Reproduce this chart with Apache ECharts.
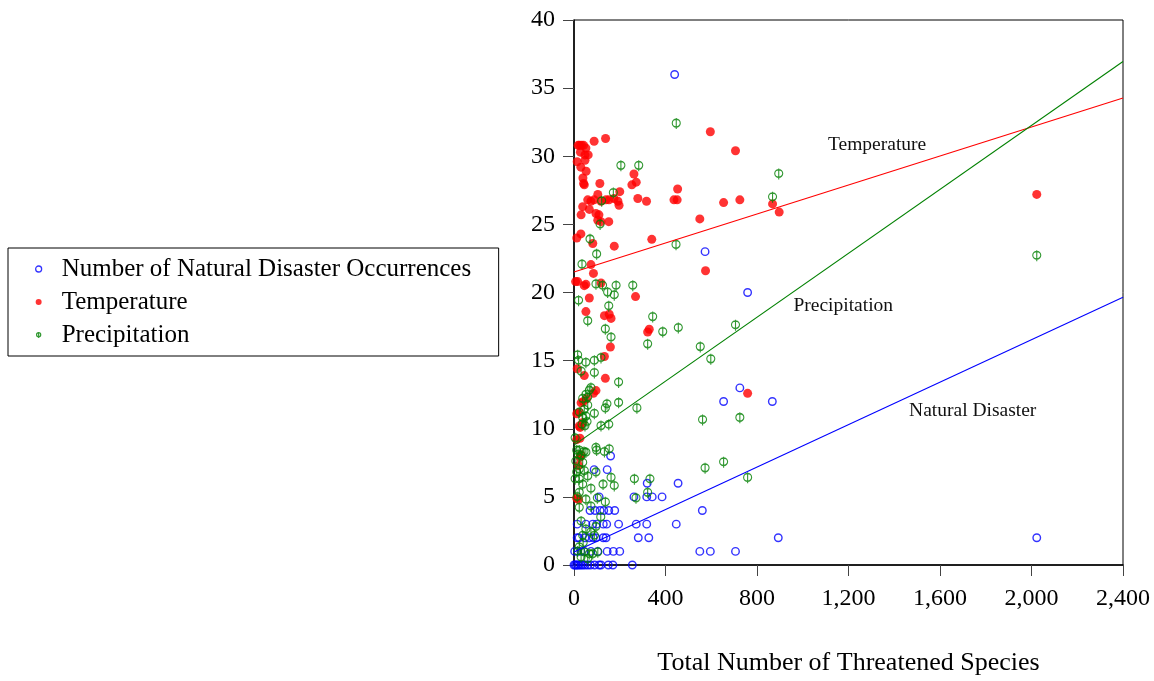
<!DOCTYPE html>
<html>
<head>
<meta charset="utf-8">
<title>Threatened species scatter</title>
<script src="https://cdn.jsdelivr.net/npm/echarts@6/dist/echarts.min.js"></script>
<style>
  html, body { margin: 0; padding: 0; background: #fff; }
  #main { width: 1154px; height: 681px; }
</style>
</head>
<body>
<div id="main"></div>
<script>
// series names (legend order)
const seriesNames = ['Number of Natural Disaster Occurrences', 'Temperature', 'Precipitation']

// [total threatened species, number of natural disasters]
const disasterPts = [
  [440, 36], [573, 23], [759, 20], [725, 13], [654, 12], [867, 12],
  [160, 8], [88, 7], [145, 7], [320, 6], [455, 6],
  [110, 5], [262, 5], [318, 5], [342, 5], [385, 5],
  [70, 4], [92, 4], [114, 4], [130, 4], [152, 4], [178, 4], [561, 4],
  [14, 3], [52, 3], [82, 3], [99, 3], [128, 3], [143, 3], [195, 3], [272, 3], [318, 3], [447, 3],
  [14, 2], [22, 2], [48, 2], [66, 2], [84, 2], [96, 2], [128, 2], [140, 2], [281, 2], [327, 2], [893, 2], [2023, 2],
  [3, 1], [16, 1], [30, 1], [45, 1], [74, 1], [104, 1], [145, 1], [172, 1], [200, 1], [550, 1], [596, 1], [706, 1],
  [0, 0], [5, 0], [10, 0], [16, 0], [22, 0], [30, 0], [38, 0], [48, 0], [60, 0], [72, 0], [90, 0], [110, 0], [118, 0], [150, 0], [170, 0], [255, 0]
]

// [total threatened species, temperature]
const tempPts = [
  [596, 31.8], [706, 30.4], [138, 31.3], [88, 31.1],
  [18, 30.8], [24, 30.8], [33, 30.8], [42, 30.8], [52, 30.6], [28, 30.3], [48, 30.1], [62, 30.1], [14, 29.6], [48, 29.7],
  [30, 29.2], [53, 28.9], [39, 28.4], [42, 28.0], [45, 27.9], [113, 28.0],
  [262, 28.7], [272, 28.1], [253, 27.9], [200, 27.4], [453, 27.6], [279, 26.9], [317, 26.7], [437, 26.8], [451, 26.8],
  [654, 26.6], [725, 26.8], [868, 26.5], [897, 25.9], [2023, 27.2],
  [104, 27.2], [60, 26.8], [74, 26.7], [88, 26.8], [118, 26.7], [140, 26.8], [153, 26.8], [175, 26.9], [192, 26.7], [197, 26.4],
  [38, 26.3], [67, 26.1], [31, 25.7], [96, 25.8], [109, 25.7], [104, 25.3], [118, 25.2], [152, 25.2], [550, 25.4],
  [12, 24.0], [30, 24.3], [82, 23.6], [176, 23.4], [340, 23.9], [74, 22.05], [575, 21.6], [85, 21.4],
  [7, 20.8], [16, 20.8], [45, 20.5], [52, 20.6], [118, 20.7], [67, 19.6], [269, 19.7],
  [52, 18.6], [133, 18.3], [154, 18.4], [162, 18.1], [322, 17.1], [329, 17.3], [159, 16.0], [133, 15.3],
  [14, 14.4], [45, 13.9], [137, 13.7], [96, 12.8], [85, 12.6], [759, 12.6], [41, 12.0], [55, 12.2],
  [31, 11.9], [12, 11.1], [23, 11.2], [38, 10.45], [27, 10.1], [23, 10.2], [12, 9.2], [26, 9.3],
  [30, 8.1], [26, 7.9], [20, 7.3], [12, 4.9], [20, 4.8]
]

// [total threatened species, precipitation]
const precipPts = [
  [447, 32.4], [205, 29.3], [283, 29.3], [895, 28.7], [172, 27.3], [868, 27.0], [121, 26.7], [114, 25.0],
  [446, 23.5], [2023, 22.7], [70, 23.9], [99, 22.8], [35, 22.05],
  [96, 20.6], [125, 20.5], [184, 20.5], [257, 20.5], [147, 20.0], [176, 19.8], [20, 19.4], [152, 19.0],
  [344, 18.2], [60, 17.9], [706, 17.6], [456, 17.4], [388, 17.1], [137, 17.3], [162, 16.7], [322, 16.2], [552, 16.0], [598, 15.1],
  [16, 15.4], [20, 15.0], [52, 14.85], [89, 15.0], [118, 15.2], [31, 14.2], [89, 14.1], [195, 13.4],
  [74, 13.0], [67, 12.8], [52, 12.5], [60, 12.3], [38, 12.2], [144, 11.8], [137, 11.5], [195, 11.9], [275, 11.5],
  [89, 11.1], [23, 11.2], [45, 11.4], [60, 11.7], [52, 10.9], [38, 10.8], [562, 10.65], [725, 10.8],
  [118, 10.2], [152, 10.3], [48, 10.2], [57, 10.5], [35, 10.3], [5, 9.3],
  [96, 8.6], [99, 8.4], [133, 8.3], [154, 8.5], [44, 8.3], [23, 8.4], [31, 8.0], [52, 8.25], [12, 8.4], [18, 8.1],
  [654, 7.55], [573, 7.1], [38, 7.5], [23, 7.0], [45, 6.9], [60, 6.5], [96, 6.8], [23, 6.3], [5, 6.3], [12, 6.8], [8, 7.6],
  [162, 6.4], [264, 6.3], [332, 6.3], [759, 6.4], [38, 5.9], [127, 5.9], [176, 5.8], [74, 5.6], [23, 5.3], [322, 5.3],
  [52, 4.8], [102, 4.9], [271, 4.9], [137, 4.6], [14, 5.0], [23, 4.2], [74, 4.3], [117, 3.5], [31, 3.2],
  [96, 2.8], [52, 2.6], [74, 2.4], [38, 2.15], [89, 2.15], [40, 1.6], [23, 1.3], [16, 1.0],
  [45, 0.93], [104, 0.93], [67, 0.8], [82, 0.8], [31, 0.56], [60, 0.44]
]

// fitted lines (intercept, slope)
const fitNames = ['Natural Disaster', 'Temperature', 'Precipitation']
const fitIntercepts = [0.95, 21.5, 8.8]
const fitSlopes = [0.00779, 0.00532, 0.01173]

// axis ranges
const xRange = [0, 2400]
const yRange = [0, 40]

const serif = '"Liberation Serif", "Times New Roman", serif'
const colors = ['#0000ff', '#ff0000', '#008000']
const phiPath = 'path://M5,0L5,13M0.5,6A4.5,4.5 0 1,1 9.5,6A4.5,4.5 0 1,1 0.5,6Z'

function fitLine (i) {
  return xRange.map(x => [x, fitIntercepts[i] + fitSlopes[i] * x])
}

// where each fit label sits (data coords)
const fitLabelAt = [[1743, 11.3], [1325, 30.86], [1177, 19.0]]

const lineSeries = fitNames.map((n, i) => ({
  name: n + ' fit',
  type: 'line',
  data: fitLine(i),
  symbol: 'none',
  silent: true,
  z: 5,
  lineStyle: { color: colors[i], width: 1.1 },
  markPoint: {
    symbol: 'circle',
    symbolSize: 0,
    silent: true,
    label: {
      show: true,
      position: 'inside',
      formatter: n,
      color: '#111',
      fontSize: 19.5,
      fontFamily: serif
    },
    data: [{ coord: fitLabelAt[i] }]
  }
}))

const chart = echarts.init(document.getElementById('main'))
const option = {
  animation: false,
  backgroundColor: '#fff',
  grid: {
    left: 574,
    right: 31,
    top: 20,
    bottom: 114,
    show: true,
    borderColor: '#000',
    borderWidth: 1,
    backgroundColor: 'transparent'
  },
  legend: {
    orient: 'vertical',
    left: 8,
    top: 248,
    padding: [7.5, 17, 7.5, 27],
    itemWidth: 36,
    itemHeight: 6,
    itemGap: 6,
    selectedMode: false,
    borderColor: '#000',
    borderWidth: 1,
    textStyle: { fontSize: 25, lineHeight: 27, fontFamily: serif, color: '#000', width: 420 },
    data: [
      { name: seriesNames[0], icon: 'circle', itemStyle: { color: 'rgba(0,0,0,0)', borderColor: colors[0], borderWidth: 1.3 } },
      { name: seriesNames[1], icon: 'circle', itemStyle: { color: colors[1] } },
      { name: seriesNames[2], icon: phiPath, itemStyle: { color: 'rgba(0,0,0,0)', borderColor: colors[2], borderWidth: 1.2 } }
    ]
  },
  xAxis: {
    type: 'value',
    min: xRange[0],
    max: xRange[1],
    interval: 400,
    name: 'Total Number of Threatened Species',
    nameLocation: 'middle',
    nameGap: 85,
    nameTextStyle: { fontSize: 26, fontFamily: serif, color: '#000' },
    axisLine: { show: true, lineStyle: { color: '#000', width: 1.5 } },
    axisTick: { show: true, length: 11, lineStyle: { color: '#444' } },
    axisLabel: {
      margin: 22,
      fontSize: 24,
      fontFamily: serif,
      color: '#000',
      formatter: v => v.toLocaleString('en-US')
    },
    splitLine: { show: false }
  },
  yAxis: {
    type: 'value',
    min: yRange[0],
    max: yRange[1],
    interval: 5,
    axisLine: { show: true, lineStyle: { color: '#000', width: 1.5 } },
    axisTick: { show: true, length: 11, lineStyle: { color: '#444' } },
    axisLabel: { margin: 19, fontSize: 24, fontFamily: serif, color: '#000' },
    splitLine: { show: false }
  },
  series: [
    {
      name: seriesNames[0],
      type: 'scatter',
      data: disasterPts,
      symbol: 'circle',
      symbolSize: 7.5,
      itemStyle: { color: 'rgba(0,0,0,0)', borderColor: colors[0], borderWidth: 1.4 }
    },
    {
      name: seriesNames[1],
      type: 'scatter',
      data: tempPts,
      symbol: 'circle',
      symbolSize: 9,
      itemStyle: { color: colors[1] }
    },
    {
      name: seriesNames[2],
      type: 'scatter',
      data: precipPts,
      symbol: phiPath,
      symbolSize: [8, 11],
      itemStyle: { color: 'rgba(0,0,0,0)', borderColor: colors[2], borderWidth: 1.3 }
    }
  ].concat(lineSeries)
}
chart.setOption(option)
window.addEventListener('resize', () => chart.resize())
</script>
</body>
</html>
